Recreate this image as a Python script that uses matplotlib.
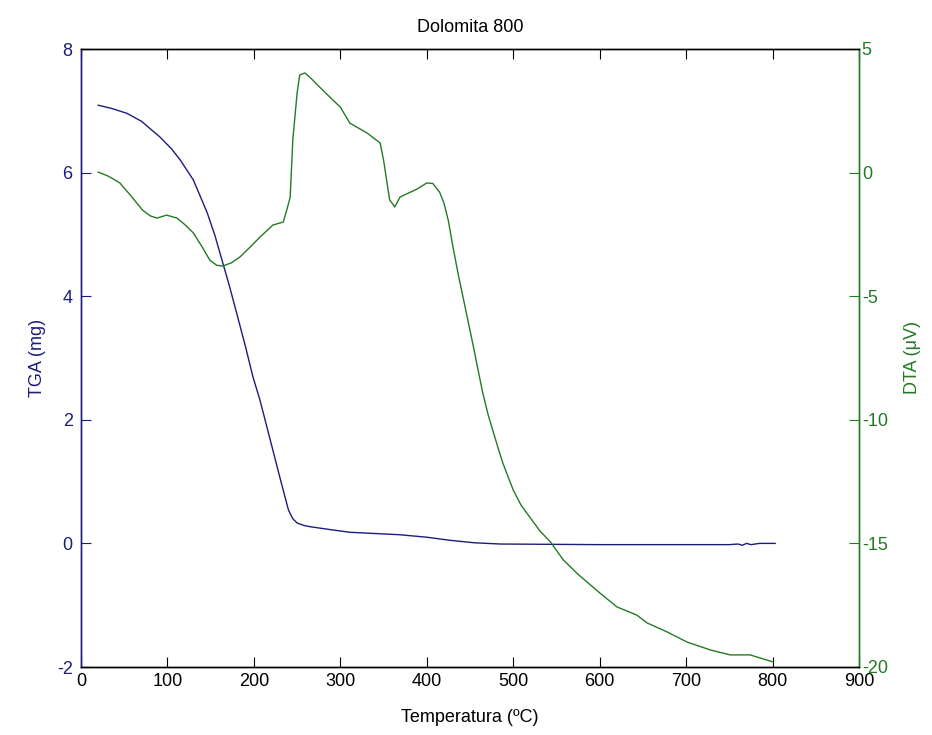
import numpy as np
import matplotlib
matplotlib.use('Agg')
import matplotlib.pyplot as plt

plt.rcParams['font.family'] = ['Liberation Sans Narrow', 'Liberation Sans', 'DejaVu Sans']
plt.rcParams['axes.unicode_minus'] = False

# ---------------------------------------------------------------------------
# Data
tga_temp = [20, 35, 53, 70, 91, 105, 115, 130, 146, 155, 164, 172, 180, 190, 199,
            207, 219, 230, 240, 245, 250, 258, 265, 290, 311, 340, 369, 400, 427,
            455, 485, 600, 750, 760, 765, 770, 775, 785, 803]
tga_mass = [7.09, 7.04, 6.96, 6.83, 6.58, 6.38, 6.20, 5.88, 5.35, 4.98, 4.54, 4.15,
            3.73, 3.20, 2.69, 2.32, 1.67, 1.07, 0.54, 0.40, 0.33, 0.29, 0.27, 0.22,
            0.18, 0.16, 0.14, 0.10, 0.05, 0.01, -0.01, -0.02, -0.02, -0.01, -0.03,
            0.0, -0.02, 0.0, 0.0]

dta_temp = [20, 32, 45, 58, 71, 80, 88, 99, 111, 120, 130, 140, 149, 157, 164, 174,
            184, 196, 207, 222, 234, 239, 242, 245, 250, 253, 259, 265, 276, 288,
            300, 311, 331, 346, 350, 357, 363, 369, 389, 400, 407, 415, 420, 425,
            430, 436, 442, 448, 454, 460, 465, 471, 477, 483, 488, 494, 500, 509,
            519, 531, 543, 558, 575, 592, 600, 620, 643, 655, 678, 701, 728, 751,
            774, 786, 801]
dta_signal = [0.02, -0.15, -0.42, -0.95, -1.51, -1.75, -1.84, -1.72, -1.84, -2.10,
              -2.44, -3.00, -3.54, -3.75, -3.78, -3.65, -3.41, -3.00, -2.61, -2.12,
              -2.00, -1.39, -0.99, 1.32, 3.22, 3.95, 4.03, 3.85, 3.46, 3.05, 2.65,
              2.00, 1.60, 1.20, 0.51, -1.10, -1.39, -0.99, -0.66, -0.42, -0.44,
              -0.80, -1.25, -1.95, -2.95, -4.05, -5.05, -6.05, -7.05, -8.10, -8.95,
              -9.80, -10.50, -11.20, -11.75, -12.30, -12.84, -13.45, -13.93, -14.50,
              -14.94, -15.67, -16.25, -16.76, -17.00, -17.57, -17.90, -18.22,
              -18.58, -18.99, -19.31, -19.51, -19.51, -19.64, -19.80]

x_ticks = [0, 100, 200, 300, 400, 500, 600, 700, 800, 900]
tga_ticks = [-2, 0, 2, 4, 6, 8]
dta_ticks = [-20, -15, -10, -5, 0, 5]
# ---------------------------------------------------------------------------

blue = '#1c1c7e'
green = '#237a23'

fig = plt.figure(figsize=(9.32, 7.35), dpi=100)
ax = fig.add_axes([81/932, 68/735, 778/932, 618/735])
ax2 = ax.twinx()

ax.plot(tga_temp, tga_mass, color=blue, lw=1.0)
ax2.plot(dta_temp, dta_signal, color=green, lw=1.0)

ax.set_xlim(0, 900)
ax.set_ylim(-2, 8)
ax2.set_ylim(-20, 5)
ax.set_xticks(x_ticks)
ax.set_yticks(tga_ticks)
ax2.set_yticks(dta_ticks)

fs = 13
ax.tick_params(axis='x', direction='in', length=7, top=True, labelsize=fs, colors='black', pad=4)
ax.tick_params(axis='y', direction='in', length=7, labelsize=fs, colors=blue, pad=6)
ax2.tick_params(axis='y', direction='in', length=7, labelsize=fs, colors=green, pad=2)

for a in (ax, ax2):
    a.spines['top'].set_color('black')
    a.spines['bottom'].set_color('black')
    a.spines['left'].set_color(blue)
    a.spines['right'].set_color(green)
    for s in a.spines.values():
        s.set_linewidth(1.0)

ax.set_xlabel('Temperatura (ºC)', fontsize=fs, labelpad=14)
ax.set_ylabel('TGA (mg)', fontsize=fs, color=blue, labelpad=8)
ax2.set_ylabel('DTA (μV)', fontsize=fs, color=green, labelpad=12)
ax.set_title('Dolomita 800', fontsize=fs, pad=12)

fig.savefig('out.png', dpi=100)
